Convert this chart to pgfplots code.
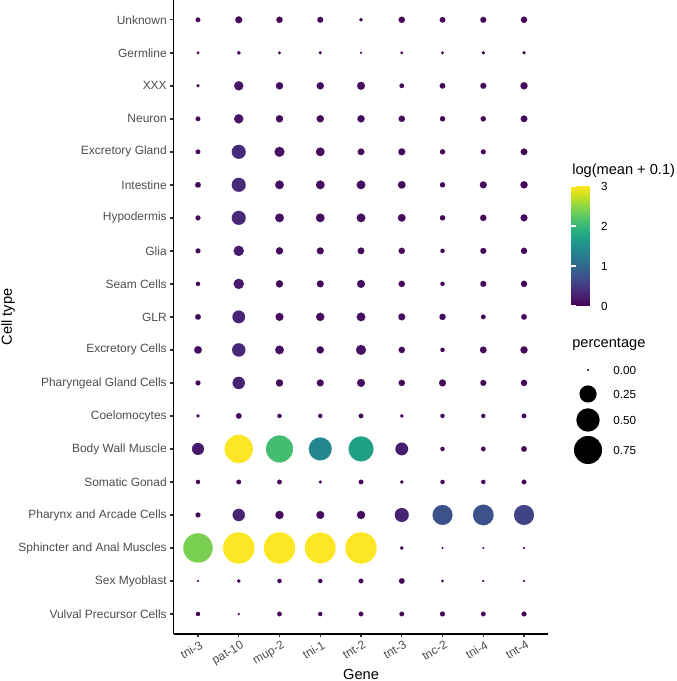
\documentclass[border=0pt]{standalone}
\usepackage{pgfplots}
\pgfplotsset{compat=1.18}
\usepackage{pgfplotstable}
\usetikzlibrary{calc}
\usepackage{fontspec}
\setmainfont{Liberation Sans}
\definecolor{tickgray}{HTML}{4D4D4D}
\definecolor{axgray}{HTML}{333333}

% g = gene index (0 tni-3 ... 8 tnt-4), c = cell type index (0 bottom ... 18 top)
\pgfplotstableread{
g c pct meta
0 18 0.008 0.03
1 18 0.028 0.08
2 18 0.021 0.05
3 18 0.018 0.05
4 18 0.003 0.02
5 18 0.021 0.05
6 18 0.015 0.04
7 18 0.018 0.05
8 18 0.021 0.05
0 17 0.001 0.01
1 17 0.004 0.02
2 17 0.001 0.01
3 17 0.002 0.01
4 17 0.0001 0.01
5 17 0.001 0.01
6 17 0.001 0.01
7 17 0.002 0.01
8 17 0.002 0.01
0 16 0.002 0.02
1 16 0.059 0.15
2 16 0.031 0.07
3 16 0.031 0.07
4 16 0.040 0.08
5 16 0.008 0.03
6 16 0.015 0.04
7 16 0.018 0.05
8 16 0.031 0.07
0 15 0.008 0.03
1 15 0.059 0.15
2 15 0.031 0.07
3 15 0.031 0.07
4 15 0.031 0.07
5 15 0.021 0.05
6 15 0.012 0.04
7 15 0.012 0.04
8 15 0.025 0.06
0 14 0.008 0.03
1 14 0.160 0.35
2 14 0.071 0.12
3 14 0.050 0.08
4 14 0.025 0.05
5 14 0.028 0.06
6 14 0.012 0.04
7 14 0.010 0.03
8 14 0.025 0.05
0 13 0.015 0.04
1 13 0.160 0.35
2 13 0.050 0.09
3 13 0.050 0.09
4 13 0.050 0.09
5 13 0.036 0.07
6 13 0.012 0.04
7 13 0.028 0.06
8 13 0.031 0.07
0 12 0.010 0.03
1 12 0.160 0.33
2 12 0.050 0.09
3 12 0.050 0.09
4 12 0.050 0.09
5 12 0.036 0.07
6 12 0.012 0.04
7 12 0.021 0.05
8 12 0.028 0.06
0 11 0.010 0.03
1 11 0.077 0.20
2 11 0.031 0.07
3 11 0.028 0.06
4 11 0.025 0.06
5 11 0.021 0.05
6 11 0.006 0.02
7 11 0.018 0.05
8 11 0.021 0.05
0 10 0.006 0.03
1 10 0.077 0.20
2 10 0.031 0.07
3 10 0.028 0.06
4 10 0.040 0.08
5 10 0.021 0.05
6 10 0.006 0.02
7 10 0.018 0.05
8 10 0.021 0.05
0 9 0.015 0.04
1 9 0.127 0.30
2 9 0.040 0.08
3 9 0.044 0.08
4 9 0.050 0.09
5 9 0.028 0.06
6 9 0.021 0.05
7 9 0.008 0.03
8 9 0.015 0.04
0 8 0.036 0.07
1 8 0.142 0.32
2 8 0.050 0.09
3 8 0.031 0.07
4 8 0.071 0.12
5 8 0.021 0.05
6 8 0.006 0.02
7 8 0.025 0.06
8 8 0.031 0.07
0 7 0.010 0.03
1 7 0.118 0.30
2 7 0.031 0.07
3 7 0.028 0.06
4 7 0.040 0.08
5 7 0.021 0.05
6 7 0.028 0.06
7 7 0.018 0.05
8 7 0.021 0.05
0 6 0.002 0.02
1 6 0.015 0.04
2 6 0.006 0.03
3 6 0.006 0.03
4 6 0.008 0.03
5 6 0.003 0.02
6 6 0.006 0.03
7 6 0.006 0.03
8 6 0.008 0.03
0 5 0.111 0.20
1 5 0.770 3.00
2 5 0.694 2.10
3 5 0.490 1.40
4 5 0.588 1.70
5 5 0.127 0.25
6 5 0.006 0.03
7 5 0.008 0.03
8 5 0.015 0.04
0 4 0.006 0.03
1 4 0.008 0.03
2 4 0.008 0.03
3 4 0.002 0.02
4 4 0.008 0.03
5 4 0.003 0.02
6 4 0.006 0.03
7 4 0.006 0.03
8 4 0.008 0.03
0 3 0.010 0.03
1 3 0.118 0.30
2 3 0.044 0.08
3 3 0.040 0.08
4 3 0.044 0.08
5 3 0.160 0.30
6 3 0.360 0.75
7 3 0.388 0.75
8 3 0.360 0.60
0 2 0.828 2.40
1 2 0.954 3.00
2 2 0.954 3.00
3 2 0.915 3.00
4 2 0.954 3.00
5 2 0.003 0.02
6 2 0.000 0.00
7 2 0.000 0.00
8 2 0.0001 0.00
0 1 0.0001 0.01
1 1 0.004 0.02
2 1 0.006 0.03
3 1 0.006 0.03
4 1 0.008 0.03
5 1 0.015 0.04
6 1 0.0005 0.01
7 1 0.0001 0.01
8 1 0.0001 0.01
0 0 0.006 0.03
1 0 0.0001 0.01
2 0 0.008 0.03
3 0 0.006 0.03
4 0 0.008 0.03
5 0 0.008 0.03
6 0 0.010 0.03
7 0 0.008 0.03
8 0 0.010 0.03
}\dotdata

% size legend: x, y position (bp), percentage
\pgfplotstableread{
x y pct
441 233.25 0.00
441 215.25 0.25
441 195.75 0.50
441 173.25 0.75
}\sizelegend

\newcommand{\ticksize}{\fontsize{9}{10.8}\selectfont}
\newcommand{\legsize}{\fontsize{8.8}{10.56}\selectfont}
\newcommand{\titlesize}{\fontsize{11}{13.2}\selectfont}

\begin{document}
\begin{tikzpicture}[x=1bp,y=1bp]
\path[use as bounding box] (0,0) rectangle (507.75,510.75);
\begin{axis}[
  name=main,
  at={(130.16bp,35.4bp)}, anchor=south west,
  scale only axis, width=281.2bp, height=475.35bp,
  xmin=-0.6, xmax=8.6, ymin=-0.6, ymax=18.6,
  axis x line*=bottom, axis y line*=left,
  axis line style={-, black, line width=1.07bp},
  tick align=outside, major tick length=2.75bp,
  tick style={axgray, line width=1.07bp},
  xtick={0,...,8},
  xticklabels={tni-3,pat-10,mup-2,tni-1,tnt-2,tnt-3,tnc-2,tni-4,tnt-4},
  ytick={0,...,18},
  yticklabels={Vulval Precursor Cells,Sex Myoblast,Sphincter and Anal Muscles,Pharynx and Arcade Cells,Somatic Gonad,Body Wall Muscle,Coelomocytes,Pharyngeal Gland Cells,Excretory Cells,GLR,Seam Cells,Glia,Hypodermis,Intestine,Excretory Gland,Neuron,XXX,Germline,Unknown},
  xticklabel style={rotate=30, anchor=north east, inner sep=0pt, font=\ticksize, text=tickgray, yshift=-2.2bp},
  yticklabel style={anchor=east, inner sep=0pt, font=\ticksize, text=tickgray, xshift=-2.2bp},
  xlabel={Gene}, ylabel={Cell type},
  xlabel style={at={(axis description cs:0.5,-0.0634)}, anchor=center, font=\titlesize},
  ylabel style={at={(axis description cs:-0.4415,0.5)}, anchor=center, font=\titlesize},
  colormap/viridis,
  point meta min=0, point meta max=3,
  colorbar shift/.style={},
  colorbar,
  colorbar style={
    at={($(parent axis.south west)+(298.09bp,245.85bp)$)}, anchor=south west,
    scale only axis, width=18bp, height=90bp,
    ytick={0,1,2,3},
    axis line style={draw=none},
    yticklabel pos=right,
    tick align=inside, ytick pos=both,
    major tick length=3.6bp,
    tick style={white, line width=0.8bp},
    /pgf/number format/assume math mode=true,
    yticklabel style={font=\legsize, text=black, anchor=west, inner sep=0pt, xshift=4.4bp},
  },
]
\addplot[scatter, only marks, mark=*, point meta=explicit,
  scatter/use mapped color={draw=mapped color, fill=mapped color, line width=0.01pt},
  visualization depends on={0.7528*(1+15*sqrt(\thisrow{pct})) \as \msize},
  scatter/@pre marker code/.append style={/tikz/mark size=\msize}]
  table[x=g, y=c, meta=meta] {\dotdata};
\end{axis}

\begin{axis}[
  at={(0bp,0bp)}, anchor=south west,
  scale only axis, width=507.75bp, height=510.75bp,
  xmin=0, xmax=507.75, ymin=0, ymax=510.75,
  hide axis, clip=false,
]
\addplot[scatter, only marks, mark=*, point meta=0,
  scatter/use mapped color={draw=black, fill=black, line width=0.01pt},
  visualization depends on={0.7528*(1+15*sqrt(\thisrow{pct})) \as \msize},
  scatter/@pre marker code/.append style={/tikz/mark size=\msize}]
  table[x=x, y=y] {\sizelegend};
\node[anchor=west, inner sep=0pt, font=\legsize] at (axis cs:459.75,233.25) {0.00};
\node[anchor=west, inner sep=0pt, font=\legsize] at (axis cs:459.75,215.25) {0.25};
\node[anchor=west, inner sep=0pt, font=\legsize] at (axis cs:459.75,195.75) {0.50};
\node[anchor=west, inner sep=0pt, font=\legsize] at (axis cs:459.75,173.25) {0.75};
\node[anchor=west, inner sep=0pt, font=\titlesize] at (axis cs:429,252.75) {percentage};
\node[anchor=west, inner sep=0pt, font=\titlesize] at (axis cs:429,382.5) {log(mean + 0.1)};
\end{axis}
\end{tikzpicture}
\end{document}
